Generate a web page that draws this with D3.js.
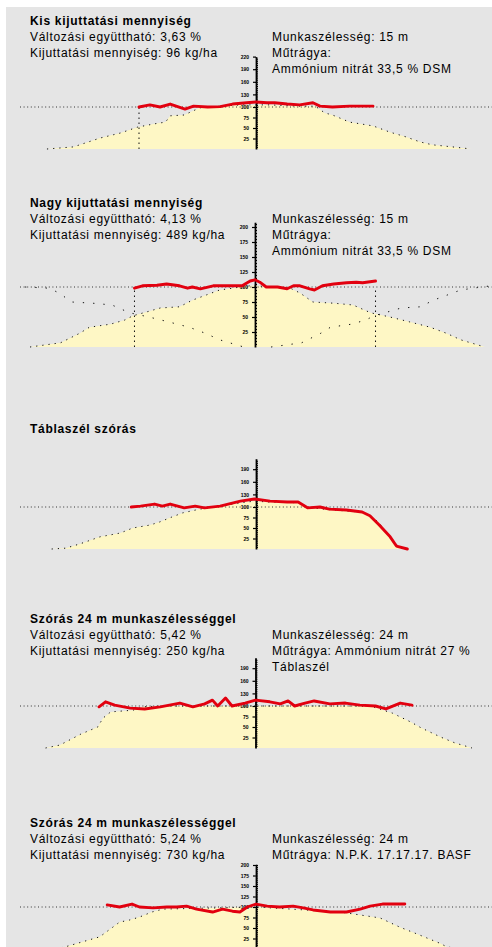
<!DOCTYPE html>
<html>
<head>
<meta charset="utf-8">
<script src="https://cdn.jsdelivr.net/npm/d3@7"></script>
<style>
  body { margin: 0; background: #fff; }
  svg { display: block; }
  text { font-family: "Liberation Sans", Arial, sans-serif; }
</style>
</head>
<body>
<svg id="chart"></svg>
<script>
// ---- data (x: metres from the spreader centre, y: % of the mean rate) ----
const titles = [
  "Kis kijuttatási mennyiség",
  "Nagy kijuttatási mennyiség",
  "Táblaszél szórás",
  "Szórás 24 m munkaszélességgel",
  "Szórás 24 m munkaszélességgel"
]
const leftLines = [
  ["Változási együttható: 3,63 %", "Kijuttatási mennyiség: 96 kg/ha"],
  ["Változási együttható: 4,13 %", "Kijuttatási mennyiség: 489 kg/ha"],
  [],
  ["Változási együttható: 5,42 %", "Kijuttatási mennyiség: 250 kg/ha"],
  ["Változási együttható: 5,24 %", "Kijuttatási mennyiség: 730 kg/ha"]
]
const rightLines = [
  ["Munkaszélesség: 15 m", "Műtrágya:", "Ammónium nitrát 33,5 % DSM"],
  ["Munkaszélesség: 15 m", "Műtrágya:", "Ammónium nitrát 33,5 % DSM"],
  [],
  ["Munkaszélesség: 24 m", "Műtrágya: Ammónium nitrát 27 %", "Táblaszél"],
  ["Munkaszélesség: 24 m", "Műtrágya: N.P.K. 17.17.17. BASF"]
]
const workWidths = [15, 15, null, 24, 24]

const yTicksA = [25, 50, 75, 100, 130, 160, 190, 220]
const yTicksB = [25, 50, 75, 100, 125, 150, 175, 200]

// single pass pattern (yellow)
const pattern1 = [[-13.4,0],[-11.7,5],[-10.0,26],[-8.7,38],[-7.6,52],[-6.5,60],[-5.8,64],[-5.5,79],[-4.6,81],[-4.2,88],[-3.6,98],[-2.3,102],[-1.0,105],[0,105],[0.9,105],[2.8,102],[3.8,102],[4.4,86],[4.9,81],[6.0,64],[7.5,55],[8.6,40],[9.6,29],[10.5,17],[11.3,10],[12.6,5],[13.8,0]]
const pattern2 = [[-14.0,0],[-12.1,7],[-10.9,23],[-10.3,33],[-9.0,38],[-8.1,45],[-7.6,52],[-6.8,58],[-5.9,65],[-4.7,67],[-3.9,78],[-3.0,87],[-2.2,95],[-0.9,100],[0,103],[0.7,100],[2.2,98],[2.8,90],[3.6,75],[4.9,73],[6.1,70],[7.2,57],[8.4,50],[9.6,42],[10.9,33],[11.9,23],[12.8,12],[14.3,0]]
const pattern3 = [[-13.1,0],[-12.2,2],[-11.3,12],[-10.0,29],[-8.7,38],[-7.9,50],[-6.8,57],[-6.2,64],[-5.4,76],[-4.7,86],[-3.6,95],[-2.5,100],[-1.5,107],[-0.6,112],[0,114],[0.7,112],[2.8,110],[3.5,98],[4.9,93],[6.7,88],[7.3,81],[7.9,62],[8.6,29],[9.1,7],[9.7,0]]
const pattern4 = [[-16.1,0],[-15.0,7],[-13.4,33],[-12.1,50],[-11.7,71],[-11.1,86],[-9.4,90],[-8.6,98],[-7.3,100],[0,100],[8.8,100],[9.3,95],[10.5,83],[11.9,62],[12.7,48],[14.2,26],[15.3,12],[16.6,0]]
const pattern5 = [[-16.2,0],[-15.4,5],[-12.6,29],[-11.0,64],[-10.2,69],[-9.4,76],[-8.4,88],[-7.5,95],[0,100],[6.8,88],[8.4,81],[10.0,74],[11.6,52],[12.8,38],[14.8,14],[15.4,5],[16.5,0]]

// overlapped distribution (red)
const overlap1 = [[-7.5,100],[-6.8,105],[-6.15,100],[-5.5,107],[-4.55,95],[-4.0,102],[-3.1,100],[-2.3,101],[-1.5,107],[-0.6,110],[0,112],[0.7,110],[1.2,110],[2.0,107],[2.8,105],[3.65,110],[4.1,102],[4.9,100],[6.0,102],[7.5,102]]
const overlap2 = [[-7.5,98],[-7.0,102],[-6.1,103],[-5.5,105],[-4.7,102],[-4.2,98],[-3.9,100],[-3.4,97],[-2.6,102],[-1.4,102],[-0.8,102],[-0.3,110],[0,112],[0.3,108],[0.7,100],[1.4,100],[2.0,97],[2.4,102],[2.8,102],[3.4,97],[3.7,95],[4.2,102],[4.9,105],[5.7,107],[6.3,108],[6.7,107],[7.5,110]]
const overlap3 = [[-8.0,100],[-7.4,102],[-6.5,107],[-6.0,102],[-5.5,107],[-4.6,98],[-3.9,102],[-3.3,98],[-2.3,102],[-1.0,114],[-0.1,119],[0.9,114],[2.0,112],[2.7,112],[3.3,98],[4.1,100],[4.7,95],[5.8,93],[6.8,88],[7.3,79],[7.9,57],[8.6,29],[9.0,7],[9.7,0]]
const overlap4 = [[-12.0,98],[-11.5,110],[-10.8,102],[-9.6,95],[-8.5,93],[-7.3,98],[-6.6,102],[-5.8,107],[-4.8,98],[-3.9,105],[-3.3,114],[-2.9,100],[-2.3,119],[-1.8,100],[-0.8,107],[0,114],[1.1,110],[1.9,105],[2.5,112],[3.0,100],[3.8,107],[4.5,112],[5.7,105],[6.9,107],[8.0,102],[9.2,100],[10.0,93],[11.1,107],[12.0,102]]
const overlap5 = [[-12.0,105],[-11.0,100],[-10.0,107],[-9.4,100],[-8.3,98],[-7.2,100],[-6.4,100],[-5.6,102],[-4.8,95],[-3.5,88],[-2.7,95],[-1.9,90],[-1.3,88],[-0.7,100],[0,107],[0.9,102],[1.9,100],[3.0,102],[3.8,98],[4.6,93],[6.0,88],[7.3,88],[8.4,95],[9.2,102],[10.2,107],[12.0,107]]

const patterns = [pattern1, pattern2, pattern3, pattern4, pattern5]
const overlaps = [overlap1, overlap2, overlap3, overlap4, overlap5]

// ---- layout ----
const width = 492
const height = 947

const layout = [
  { axisX: 256,   ppm: 15.6,  base: 149, per100: 42, yTop: 220, ticks: yTicksA, textY: 24.5, edges: [-7.5],      neighbours: false },
  { axisX: 255,   ppm: 16.07, base: 347, per100: 60, yTop: 208, ticks: yTicksB, textY: 206.5, edges: [-7.5, 7.5], neighbours: true },
  { axisX: 256,   ppm: 15.6,  base: 549, per100: 42, yTop: 215, ticks: yTicksA, textY: 432.5, edges: [],          neighbours: false },
  { axisX: 255.5, ppm: 13.04, base: 748, per100: 42, yTop: 215, ticks: yTicksA, textY: 623, edges: [],          neighbours: false },
  { axisX: 256,   ppm: 12.4,  base: 949, per100: 42, yTop: 202, ticks: yTicksB, textY: 827, edges: [],          neighbours: false }
]

const svg = d3.select('#chart')
  .attr('width', width)
  .attr('height', height)

svg.append('rect')
  .attr('x', 6).attr('y', 7)
  .attr('width', width - 6).attr('height', height - 7)
  .attr('fill', '#e5e5e5')

svg.append('defs').append('clipPath')
  .attr('id', 'plotclip')
  .append('rect')
  .attr('x', 20).attr('y', 0).attr('width', width - 20).attr('height', height)

const lineH = 16

layout.forEach(function (L, i) {
  const g = svg.append('g')

  const x = d3.scaleLinear()
    .domain([0, 1])
    .range([L.axisX, L.axisX + L.ppm])
  const y = d3.scaleLinear()
    .domain([0, 100])
    .range([L.base, L.base - L.per100])

  // texts
  g.append('text')
    .attr('x', 30).attr('y', L.textY)
    .attr('font-size', '12px')
    .attr('font-weight', 'bold')
    .attr('letter-spacing', '0.7px')
    .text(titles[i])

  leftLines[i].forEach(function (t, k) {
    g.append('text')
      .attr('x', 30).attr('y', L.textY + lineH * (k + 1))
      .attr('font-size', '12px')
      .attr('letter-spacing', '0.7px')
      .text(t)
  })
  rightLines[i].forEach(function (t, k) {
    g.append('text')
      .attr('x', 272).attr('y', L.textY + lineH * (k + 1))
      .attr('font-size', '12px')
      .attr('letter-spacing', '0.7px')
      .text(t)
  })

  const plot = g.append('g').attr('clip-path', 'url(#plotclip)')

  // yellow single-pass pattern
  const area = d3.area()
    .x(d => x(d[0]))
    .y0(y(0))
    .y1(d => y(d[1]))
  plot.append('path')
    .datum(patterns[i])
    .attr('d', area)
    .attr('fill', '#fef7c5')

  const line = d3.line()
    .x(d => x(d[0]))
    .y(d => y(d[1]))

  plot.append('path')
    .datum(patterns[i])
    .attr('d', line)
    .attr('fill', 'none')
    .attr('stroke', '#111')
    .attr('stroke-width', 1)
    .attr('stroke-dasharray', '1.2,5')

  // neighbouring passes
  if (L.neighbours) {
    [-workWidths[i], workWidths[i]].forEach(function (s) {
      plot.append('path')
        .datum(patterns[i].map(d => [d[0] + s, d[1]]))
        .attr('d', line)
        .attr('fill', 'none')
        .attr('stroke', '#111')
        .attr('stroke-width', 1)
        .attr('stroke-dasharray', '1.3,9')
    })
  }

  // reference line (100 %)
  plot.append('line')
    .attr('x1', 20).attr('x2', width)
    .attr('y1', y(100)).attr('y2', y(100))
    .attr('stroke', '#333')
    .attr('stroke-width', 1)
    .attr('stroke-dasharray', '1,2.6')

  // working width edges
  L.edges.forEach(function (e) {
    plot.append('line')
      .attr('x1', x(e)).attr('x2', x(e))
      .attr('y1', y(0)).attr('y2', y(100))
      .attr('stroke', '#111')
      .attr('stroke-width', 1)
      .attr('stroke-dasharray', '1.5,3.5')
  })

  // y axis
  const yAxisScale = y.copy().domain([0, L.yTop]).range([L.base, L.base - L.per100 * L.yTop / 100])
  const major = L.ticks.filter(v => v <= L.yTop + 3)
  const ax = g.append('g')
    .attr('transform', 'translate(' + L.axisX + ',0)')
    .call(d3.axisLeft(yAxisScale).tickValues(major).tickSize(3).tickSizeOuter(0).tickPadding(4))
  ax.select('.domain').attr('stroke', '#000').attr('stroke-width', 1.8)
  ax.selectAll('.tick line').attr('stroke', '#000').attr('stroke-width', 1.2)
  ax.selectAll('.tick text')
    .attr('font-size', '5px')
    .attr('font-weight', 'bold')
    .attr('font-family', '"Liberation Sans", Arial, sans-serif')
    .attr('fill', '#000')

  g.append('g')
    .attr('transform', 'translate(' + L.axisX + ',0)')
    .call(d3.axisRight(yAxisScale).tickValues(d3.range(5, L.yTop, 5)).tickSize(2).tickSizeOuter(0).tickFormat(''))
    .call(s => s.select('.domain').remove())
    .selectAll('.tick line').attr('stroke', '#000').attr('stroke-width', 1)

  // red overlapped distribution
  g.append('path')
    .datum(overlaps[i])
    .attr('d', line)
    .attr('fill', 'none')
    .attr('stroke', '#e2000f')
    .attr('stroke-width', 2.9)
    .attr('stroke-linejoin', 'round')
    .attr('stroke-linecap', 'round')
})
</script>
</body>
</html>
